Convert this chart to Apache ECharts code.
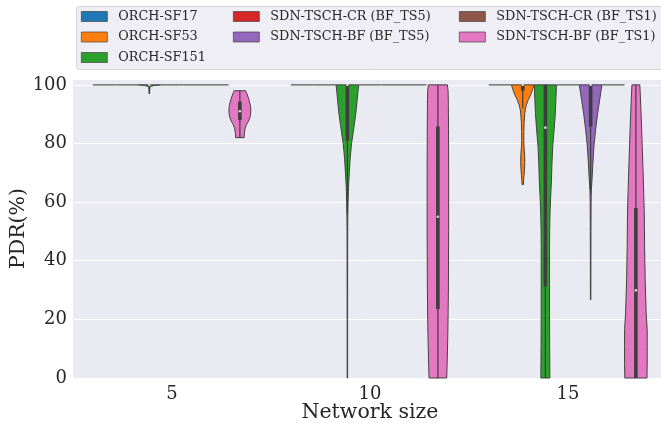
<!DOCTYPE html>
<html>
<head>
<meta charset="utf-8">
<script src="https://cdn.jsdelivr.net/npm/echarts@6/dist/echarts.min.js"></script>
<style>
html,body{margin:0;padding:0;background:#fff;}
#chart{width:661px;height:426px;}
</style>
</head>
<body>
<div id="chart"></div>
<script>
// ---------- data ----------
const categories = ['5', '10', '15'];
const seriesNames = ['ORCH-SF17', 'ORCH-SF53', 'ORCH-SF151',
  'SDN-TSCH-CR (BF_TS5)', 'SDN-TSCH-BF (BF_TS5)',
  'SDN-TSCH-CR (BF_TS1)', 'SDN-TSCH-BF (BF_TS1)'];
const colors = ['#1f77b4', '#ff7f0e', '#2ca02c', '#d62728', '#9467bd', '#8c564b', '#e377c2'];
const yTicks = [0, 20, 40, 60, 80, 100];

// violin density profiles: [PDR value, relative half-width], per network size (5, 10, 15)
// a single point means every run gave that value (drawn as a flat line)
const allHundred = [[100, 1]];
const sf17Profile = [allHundred, allHundred, allHundred];
const sf53Profile = [allHundred, allHundred,
  [[100, 1.0], [98.5, 0.88], [96.6, 0.7], [95, 0.5], [93.2, 0.32], [91.5, 0.22], [90.3, 0.18], [87, 0.12], [84, 0.1], [81, 0.09], [78.5, 0.12], [76, 0.17], [73.5, 0.18], [71, 0.15], [69, 0.11], [67.5, 0.08], [66, 0.06]]];
const sf151Profile = [
  [[100, 1.0], [99.8, 0.45], [99.5, 0.12], [99, 0.04], [98, 0.03], [97, 0.02]],
  [[100, 1.0], [97.5, 0.93], [95, 0.87], [90, 0.74], [85, 0.56], [80, 0.37], [75, 0.25], [70, 0.17], [65, 0.1], [60, 0.06], [55, 0.04], [50, 0.03], [40, 0.025], [20, 0.02], [0, 0.02]],
  [[100, 0.98], [95, 0.93], [90.3, 0.88], [85, 0.78], [79, 0.65], [73, 0.58], [67.6, 0.54], [62, 0.47], [56.3, 0.41], [50, 0.38], [44.9, 0.37], [33.5, 0.37], [22.2, 0.37], [10.8, 0.38], [0, 0.4]]];
const crTs5Profile = [allHundred, allHundred, allHundred];
const bfTs5Profile = [allHundred, allHundred,
  [[100, 1.0], [97.5, 0.9], [94.9, 0.8], [90.3, 0.62], [84.7, 0.44], [79, 0.29], [73.3, 0.2], [67.6, 0.12], [64, 0.06], [60, 0.04], [50, 0.03], [40, 0.025], [30, 0.02], [26.7, 0.02]]];
const crTs1Profile = [allHundred, allHundred, allHundred];
const bfTs1Profile = [
  [[98, 0.5], [97, 0.62], [95, 0.8], [93, 0.93], [91.5, 0.97], [90, 0.95], [89, 0.9], [87.5, 0.75], [86.4, 0.58], [85, 0.46], [83.5, 0.4], [82, 0.38]],
  [[100, 0.84], [98, 0.9], [95, 0.92], [85, 0.94], [70, 0.95], [50, 0.95], [30, 0.93], [15, 0.88], [5, 0.82], [0, 0.78]],
  [[100, 0.35], [90.3, 0.46], [79, 0.56], [67.6, 0.66], [56.3, 0.74], [44.9, 0.77], [33.5, 0.82], [22.2, 0.91], [16.5, 1.0], [10.8, 1.0], [5, 1.0], [0, 0.98]]];

// inner box stats: [whisker low, Q1, median, Q3, whisker high]
const sf17Box = [null, null, null];
const sf53Box = [null, null, [92, 98, 100, 100, 100]];
const sf151Box = [[97, 100, 100, 100, 100], [56, 81, 100, 100, 100], [0, 31.2, 85.4, 100, 100]];
const crTs5Box = [null, null, null];
const bfTs5Box = [null, null, [63, 85.8, 100, 100, 100]];
const crTs1Box = [null, null, null];
const bfTs1Box = [[82, 88, 91, 94.3, 98], [0, 23.5, 55, 85.8, 100], [0, 0, 29.9, 58, 100]];

const profiles = [sf17Profile, sf53Profile, sf151Profile, crTs5Profile, bfTs5Profile, crTs1Profile, bfTs1Profile];
const boxes = [sf17Box, sf53Box, sf151Box, crTs5Box, bfTs5Box, crTs1Box, bfTs1Box];

// ---------- chart ----------
const FONT = 'DejaVu Serif';
const TXT = '#262626';
const chart = echarts.init(document.getElementById('chart'), null, {renderer: 'canvas'});

function renderItem(params, api) {
  const s = params.seriesIndex;
  const ci = api.value(0);
  const prof = profiles[s][ci];
  const box = boxes[s][ci];
  const band = api.size([1, 0])[0];
  const slot = band * 0.8 / 7;
  const half = slot / 2;
  const cx = api.coord([ci, 0])[0] + (s - 3) * slot;
  const yOf = v => api.coord([ci, v])[1];
  const children = [];
  if (!prof) return null;
  if (prof.length === 1) {
    const y = yOf(prof[0][0]);
    children.push({type: 'line', shape: {x1: cx - half, y1: y, x2: cx + half, y2: y},
      style: {stroke: '#707070', lineWidth: 1.5}});
  } else {
    const right = prof.map(p => [cx + p[1] * half, yOf(p[0])]);
    const left = prof.slice().reverse().map(p => [cx - p[1] * half, yOf(p[0])]);
    children.push({type: 'polygon', shape: {points: right.concat(left)},
      style: {fill: colors[s], stroke: '#424242', lineWidth: 1}});
  }
  if (box) {
    children.push({type: 'line', shape: {x1: cx, y1: yOf(box[0]), x2: cx, y2: yOf(box[4])},
      style: {stroke: '#3d3d3d', lineWidth: 1.2}});
    const bw = 3.6;
    children.push({type: 'rect', shape: {x: cx - bw / 2, y: yOf(box[3]), width: bw, height: Math.max(yOf(box[1]) - yOf(box[3]), 0.5)},
      style: {fill: '#3d3d3d'}});
    children.push({type: 'circle', shape: {cx: cx, cy: yOf(box[2]), r: 1.3},
      style: {fill: '#d8d8d8'}});
  }
  return {type: 'group', children: children};
}

const series = seriesNames.map((name, s) => ({
  name: name,
  type: 'custom',
  renderItem: renderItem,
  itemStyle: {color: colors[s]},
  encode: {x: 0, y: 1},
  data: categories.map((c, ci) => [ci, 100]),
  silent: true,
  clip: false
}));

function legendCol(left, names) {
  return {
    left: left, top: 9.5, orient: 'vertical', padding: 0,
    itemWidth: 26, itemHeight: 10, itemGap: 6.5,
    icon: 'rect',
    itemStyle: {borderColor: '#444', borderWidth: 0.7},
    textStyle: {fontFamily: FONT, fontSize: 12.8, color: TXT, lineHeight: 14, padding: [0, 0, 0, 6]},
    data: names,
    selectedMode: false
  };
}

const option = {
  backgroundColor: '#ffffff',
  animation: false,
  graphic: [{
    type: 'rect', left: 76, top: 6, z: -1,
    shape: {width: 600, height: 63, r: 3},
    style: {fill: '#eeeef4', stroke: '#d4d4d8', lineWidth: 1}
  }],
  legend: [
    legendCol(81, seriesNames.slice(0, 3)),
    legendCol(233, seriesNames.slice(3, 5)),
    legendCol(459, seriesNames.slice(5, 7))
  ],
  grid: {left: 73, width: 594, top: 79, height: 299, show: true, backgroundColor: '#eaeaf2', borderWidth: 0,
    containLabel: false, outerBoundsMode: 'none'},
  xAxis: {
    type: 'category', data: categories,
    name: 'Network size', nameLocation: 'middle', nameGap: 24, nameMoveOverlap: false,
    nameTextStyle: {fontFamily: FONT, fontSize: 20.5, color: TXT},
    axisLine: {show: false}, axisTick: {show: false},
    axisLabel: {fontFamily: FONT, fontSize: 18, color: TXT, margin: 7},
    splitLine: {show: false}
  },
  yAxis: {
    type: 'value', min: 0, max: 102, interval: 20,
    name: 'PDR(%)', nameLocation: 'middle', nameGap: 44, nameMoveOverlap: false,
    nameTextStyle: {fontFamily: FONT, fontSize: 20.5, color: TXT},
    axisLine: {show: false}, axisTick: {show: false},
    axisLabel: {fontFamily: FONT, fontSize: 18, color: TXT, margin: 6,
      formatter: v => (yTicks.indexOf(v) >= 0 ? String(v) : '')},
    splitLine: {show: true, lineStyle: {color: '#ffffff', width: 1}}
  },
  series: series
};
chart.setOption(option);
</script>
</body>
</html>
